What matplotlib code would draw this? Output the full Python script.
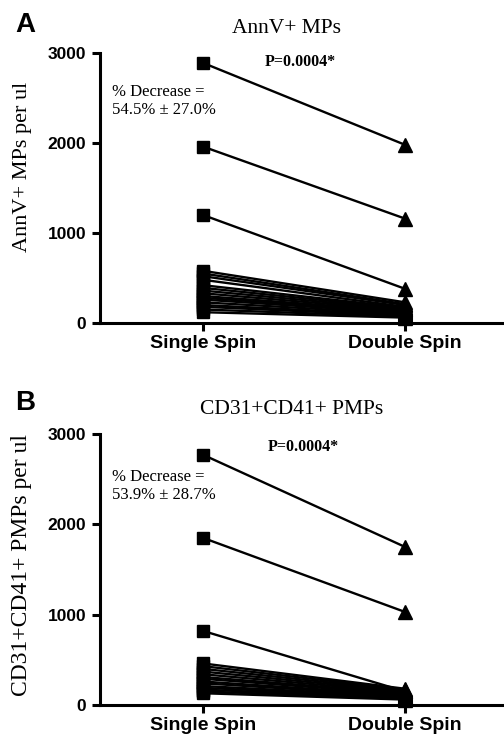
import matplotlib.pyplot as plt

# panel A: AnnV+ MPs per ul
a_single = [2890, 1960, 1200, 580, 550, 520, 480, 420, 390, 360, 330,
            300, 280, 260, 230, 200, 180, 150, 120]
a_double = [1980, 1160, 380, 230, 210, 200, 180, 170, 160, 150, 140,
            130, 120, 110, 100, 90, 80, 70, 60]

# panel B: CD31+CD41+ PMPs per ul
b_single = [2770, 1850, 820, 460, 430, 400, 370, 340, 310, 290, 260,
            240, 210, 190, 170, 150, 130]
b_double = [1750, 1030, 150, 180, 170, 160, 150, 140, 130, 120, 110,
            100, 95, 90, 80, 70, 60]

groups = ["Single Spin", "Double Spin"]
yticks = [0, 1000, 2000, 3000]

serif = "Liberation Serif"
sans = "Liberation Sans"

W, H = 504, 736
fig = plt.figure(figsize=(W / 100, H / 100), dpi=100)


def panel(top_px, zero_px, single, double, letter, title, ylabel, pos):
    h = zero_px - top_px
    ax = fig.add_axes([100 / W, 1 - zero_px / H, 1 - 100 / W, h / H])
    for s, d in zip(single, double):
        ax.plot([0, 1], [s, d], color="black", lw=1.7, clip_on=False,
                zorder=2)
        ax.plot(0, s, marker="s", ms=9, color="black", clip_on=False,
                zorder=3)
        ax.plot(1, d, marker="^", ms=10, color="black", clip_on=False,
                zorder=3)
    ax.set_xlim(-0.51, 1.49)
    ax.set_ylim(0, 3000)
    ax.set_xticks([0, 1])
    ax.set_xticklabels(groups, fontfamily=sans, fontweight="bold",
                       fontsize=14)
    ax.set_yticks(yticks)
    ax.set_yticklabels([str(t) for t in yticks], fontfamily=sans,
                       fontweight="bold", fontsize=12.5)
    for side in ["top", "right"]:
        ax.spines[side].set_visible(False)
    for side in ["left", "bottom"]:
        ax.spines[side].set_linewidth(2.2)
    ax.tick_params(direction="out", length=6, width=2.2)
    ax.tick_params(axis="y", pad=4)
    ax.tick_params(axis="x", pad=3)
    ax.set_ylabel(ylabel, fontfamily=serif, fontsize=pos["ylab_fs"])
    ax.yaxis.set_label_coords(-68 / 404, (zero_px - pos["ylab"]) / h)
    ax.text((pos["title_x"] - 100) / 404, (zero_px - pos["title_y"]) / h,
            title, transform=ax.transAxes, ha="center", va="center",
            fontfamily=serif, fontsize=15.5)
    ax.text((pos["p_x"] - 100) / 404, (zero_px - pos["p_y"]) / h,
            "P=0.0004*", transform=ax.transAxes, ha="center", va="center",
            fontfamily=serif, fontweight="bold", fontsize=11.5)
    ax.text(12 / 404, (zero_px - pos["pct_y"]) / h,
            "% Decrease =\n" + pos["pct"], transform=ax.transAxes,
            ha="left", va="top", fontfamily=serif, fontsize=12,
            linespacing=1.2)
    fig.text(15 / W, 1 - pos["letter_y"] / H, letter, fontfamily=sans,
             fontweight="bold", fontsize=20, ha="left", va="center")
    return ax


panel(53, 323, a_single, a_double, "A", "AnnV+ MPs", "AnnV+ MPs per ul",
      {"ylab": 167, "ylab_fs": 16, "title_x": 287, "title_y": 29,
       "p_x": 300, "p_y": 62, "pct_y": 84, "pct": "54.5% ± 27.0%",
       "letter_y": 25})
panel(434, 705, b_single, b_double, "B", "CD31+CD41+ PMPs",
      "CD31+CD41+ PMPs per ul",
      {"ylab": 565, "ylab_fs": 17, "title_x": 292, "title_y": 410,
       "p_x": 303, "p_y": 447, "pct_y": 469, "pct": "53.9% ± 28.7%",
       "letter_y": 403})

fig.savefig("out.png", dpi=100)
